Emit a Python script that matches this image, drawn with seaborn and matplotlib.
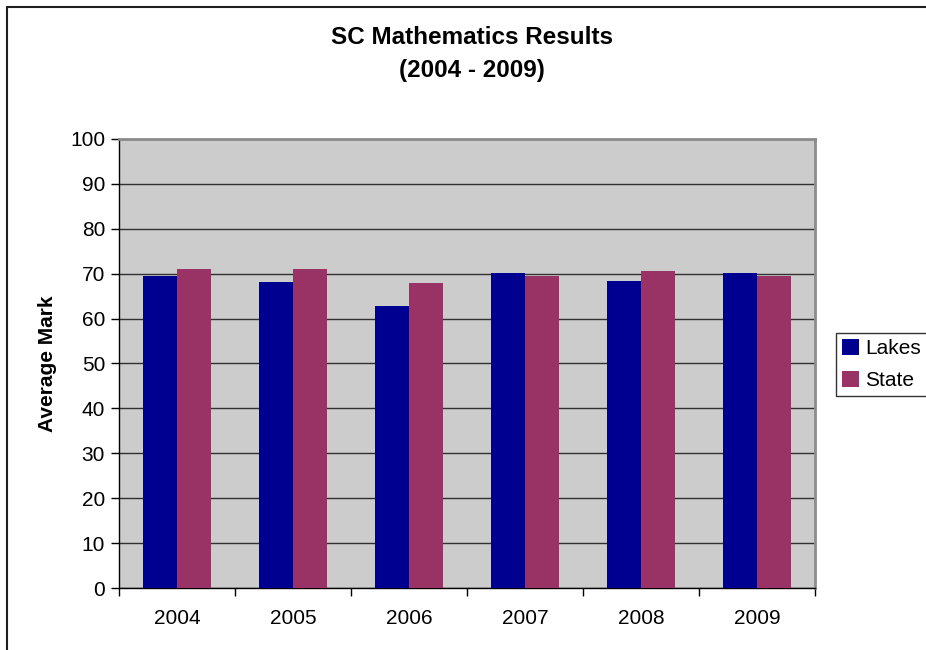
import matplotlib
matplotlib.use("Agg")
import matplotlib.pyplot as plt
from matplotlib.lines import Line2D
from matplotlib.patches import Patch
import seaborn as sns
import pandas as pd

years = ["2004", "2005", "2006", "2007", "2008", "2009"]
lakes = [69.5, 68.1, 62.8, 70.1, 68.4, 70.1]
state = [71.0, 71.0, 67.9, 69.5, 70.6, 69.5]
series = ["Lakes", "State"]
colors = ["#000090", "#993366"]
y_ticks = list(range(0, 101, 10))

df = pd.DataFrame({
    "Year": years * 2,
    "Mark": lakes + state,
    "Series": [series[0]] * len(years) + [series[1]] * len(years),
})

sns.set_theme(style="white")
plt.rcParams["font.family"] = ["Liberation Sans", "DejaVu Sans"]
plt.rcParams["text.color"] = "black"
plt.rcParams["axes.labelcolor"] = "black"
plt.rcParams["xtick.color"] = "black"
plt.rcParams["ytick.color"] = "black"

fig = plt.figure(figsize=(9.26, 6.5), dpi=100)
ax = fig.add_axes([119 / 926, 62 / 650, 696 / 926, 449 / 650])

sns.barplot(data=df, x="Year", y="Mark", hue="Series", palette=colors,
            width=0.58, saturation=1, ax=ax, legend=False, zorder=3)
for p in ax.patches:
    p.set_edgecolor("none")

ax.set_facecolor("#CCCCCC")
ax.set_ylim(0, 100)
ax.set_xlim(-0.5, len(years) - 0.5)
ax.set_yticks(y_ticks)
ax.yaxis.grid(True, color="#303030", linewidth=1.0, zorder=1)
ax.set_axisbelow(True)

# category labels at centres, tick marks at category boundaries
ax.set_xticks(range(len(years)))
ax.set_xticklabels(years)
ax.set_xticks([i - 0.5 for i in range(len(years) + 1)], minor=True)
ax.tick_params(axis="x", which="major", length=0, pad=15, labelsize=15, labelcolor="black")
ax.tick_params(axis="x", which="minor", length=6, width=1, direction="out", color="black", bottom=True)
ax.tick_params(axis="y", length=6, width=1, direction="out", color="black", left=True,
               labelsize=15, pad=4, labelcolor="black")

for side in ["left", "bottom"]:
    ax.spines[side].set_color("black")
    ax.spines[side].set_linewidth(1.0)
for side in ["top", "right"]:
    ax.spines[side].set_color("#8C8C8C")
    ax.spines[side].set_linewidth(2.0)

ax.set_xlabel("")
ax.set_ylabel("Average Mark", fontsize=15, fontweight="bold", labelpad=9, color="black")

fig.text(472 / 926, 1 - 38 / 650, "SC Mathematics Results", ha="center", va="center",
         fontsize=17.5, fontweight="bold", color="black")
fig.text(472 / 926, 1 - 70 / 650, "(2004 - 2009)", ha="center", va="center",
         fontsize=17.5, fontweight="bold", color="black")

handles = [Patch(facecolor=c, edgecolor="none") for c in colors]
leg = fig.legend(handles, series, loc="upper left",
                 bbox_to_anchor=(836 / 926, 1 - 333 / 650),
                 frameon=True, fancybox=False, fontsize=15,
                 handlelength=0.8, handleheight=0.8, handletextpad=0.3,
                 labelspacing=0.6, borderpad=0.3, borderaxespad=0)
leg.get_frame().set_edgecolor("black")
leg.get_frame().set_linewidth(1.0)
for t in leg.get_texts():
    t.set_color("black")

# chart frame along the left and top edges
fig.add_artist(Line2D([7 / 926, 7 / 926], [0, 1 - 7 / 650], color="#202020", linewidth=1.5,
                      transform=fig.transFigure))
fig.add_artist(Line2D([7 / 926, 1], [1 - 7 / 650, 1 - 7 / 650], color="#202020", linewidth=1.5,
                      transform=fig.transFigure))

fig.savefig("out.png", dpi=100)
